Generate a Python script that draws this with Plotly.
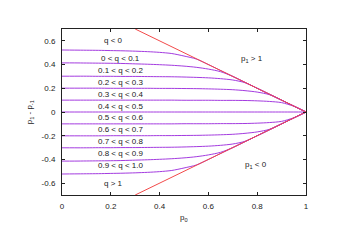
import plotly.graph_objects as go

# ---- data ----
p0 = [0.00, 0.05, 0.10, 0.15, 0.20, 0.25, 0.30, 0.35, 0.40, 0.45, 0.50,
      0.55, 0.60, 0.65, 0.70, 0.75, 0.80, 0.85, 0.90, 0.95, 1.00]

q_00 = [0.523, 0.522, 0.521, 0.520, 0.518, 0.516, 0.513, 0.509, 0.503, 0.493, 0.472,
        0.447, 0.400, 0.350, 0.300, 0.250, 0.200, 0.150, 0.100, 0.050, 0.0]
q_01 = [0.414, 0.414, 0.413, 0.412, 0.411, 0.409, 0.406, 0.403, 0.399, 0.394, 0.387,
        0.377, 0.362, 0.340, 0.300, 0.250, 0.200, 0.150, 0.100, 0.050, 0.0]
q_02 = [0.302, 0.302, 0.302, 0.301, 0.301, 0.300, 0.300, 0.299, 0.298, 0.297, 0.295,
        0.292, 0.288, 0.281, 0.270, 0.247, 0.200, 0.150, 0.100, 0.050, 0.0]
q_03 = [0.201, 0.201, 0.201, 0.201, 0.200, 0.200, 0.200, 0.200, 0.199, 0.199, 0.198,
        0.197, 0.195, 0.192, 0.188, 0.180, 0.168, 0.146, 0.100, 0.050, 0.0]
q_04 = [0.100, 0.100, 0.100, 0.100, 0.100, 0.100, 0.100, 0.100, 0.100, 0.100, 0.099,
        0.099, 0.099, 0.098, 0.098, 0.097, 0.094, 0.089, 0.079, 0.048, 0.0]
q_05 = [0.0, 0.0, 0.0, 0.0, 0.0, 0.0, 0.0, 0.0, 0.0, 0.0, 0.0,
        0.0, 0.0, 0.0, 0.0, 0.0, 0.0, 0.0, 0.0, 0.0, 0.0]
q_06 = [-0.100, -0.100, -0.100, -0.100, -0.100, -0.100, -0.100, -0.100, -0.100, -0.100, -0.099,
        -0.099, -0.099, -0.098, -0.098, -0.097, -0.094, -0.089, -0.079, -0.048, 0.0]
q_07 = [-0.201, -0.201, -0.201, -0.201, -0.200, -0.200, -0.200, -0.200, -0.199, -0.199, -0.198,
        -0.197, -0.195, -0.192, -0.188, -0.180, -0.168, -0.146, -0.100, -0.050, 0.0]
q_08 = [-0.302, -0.302, -0.302, -0.301, -0.301, -0.300, -0.300, -0.299, -0.298, -0.297, -0.295,
        -0.292, -0.288, -0.281, -0.270, -0.247, -0.200, -0.150, -0.100, -0.050, 0.0]
q_09 = [-0.414, -0.414, -0.413, -0.412, -0.411, -0.409, -0.406, -0.403, -0.399, -0.394, -0.387,
        -0.377, -0.362, -0.340, -0.300, -0.250, -0.200, -0.150, -0.100, -0.050, 0.0]
q_10 = [-0.523, -0.522, -0.521, -0.520, -0.518, -0.516, -0.513, -0.509, -0.503, -0.493, -0.472,
        -0.447, -0.400, -0.350, -0.300, -0.250, -0.200, -0.150, -0.100, -0.050, 0.0]

curves = [q_00, q_01, q_02, q_03, q_04, q_05, q_06, q_07, q_08, q_09, q_10]

# boundary lines p1 = 1 and p1 = 0
bound_x = [0.3, 1.0]
upper_bound_y = [0.7, 0.0]
lower_bound_y = [-0.7, 0.0]

region_labels = ["q < 0", "0 < q < 0.1", "0.1 < q < 0.2", "0.2 < q < 0.3",
                 "0.3 < q < 0.4", "0.4 < q < 0.5", "0.5 < q < 0.6", "0.6 < q < 0.7",
                 "0.7 < q < 0.8", "0.8 < q < 0.9", "0.9 < q < 1.0", "q > 1"]
region_label_y = [0.6, 0.45, 0.35, 0.25, 0.15, 0.05, -0.05, -0.15, -0.25, -0.35, -0.45, -0.6]
region_label_x = [0.21, 0.24, 0.24, 0.24, 0.24, 0.24, 0.24, 0.24, 0.24, 0.24, 0.24, 0.21]

x_tickvals = [0, 0.2, 0.4, 0.6, 0.8, 1.0]
x_ticktext = ["0", "0.2", "0.4", "0.6", "0.8", "1"]
y_tickvals = [-0.6, -0.4, -0.2, 0, 0.2, 0.4, 0.6]
y_ticktext = ["-0.6", "-0.4", "-0.2", "0", "0.2", "0.4", "0.6"]

FONT = "Liberation Sans, Arial, sans-serif"
PURPLE = "#a43ce0"
RED = "#f24a4a"
TEXT = "#222222"

fig = go.Figure()
for c in curves:
    fig.add_trace(go.Scatter(x=p0, y=c, mode="lines",
                             line=dict(color=PURPLE, width=1, shape="spline", smoothing=0.8),
                             hoverinfo="skip", showlegend=False))
fig.add_trace(go.Scatter(x=bound_x, y=upper_bound_y, mode="lines",
                         line=dict(color=RED, width=1), hoverinfo="skip", showlegend=False))
fig.add_trace(go.Scatter(x=bound_x, y=lower_bound_y, mode="lines",
                         line=dict(color=RED, width=1), hoverinfo="skip", showlegend=False))

annotations = []
for t, xx, yy in zip(region_labels, region_label_x, region_label_y):
    annotations.append(dict(x=xx, y=yy, xref="x", yref="y", text=t, showarrow=False,
                            xanchor="center", yanchor="middle",
                            font=dict(family=FONT, size=8, color=TEXT)))
annotations.append(dict(x=0.78, y=0.45, xref="x", yref="y", text="p<sub>1</sub> > 1",
                        showarrow=False, font=dict(family=FONT, size=8, color=TEXT)))
annotations.append(dict(x=0.795, y=-0.45, xref="x", yref="y", text="p<sub>1</sub> < 0",
                        showarrow=False, font=dict(family=FONT, size=8, color=TEXT)))
annotations.append(dict(x=0.5, y=-0.137, xref="paper", yref="paper", text="p<sub>0</sub>",
                        showarrow=False, xanchor="center", yanchor="middle",
                        font=dict(family=FONT, size=8, color=TEXT)))
annotations.append(dict(x=-0.13, y=0.5, xref="paper", yref="paper",
                        text="p<sub>1</sub> - p<sub>-1</sub>", textangle=-90,
                        showarrow=False, xanchor="center", yanchor="middle",
                        font=dict(family=FONT, size=8, color=TEXT)))

axis_common = dict(showgrid=False, zeroline=False, showline=True, linecolor=TEXT,
                   linewidth=1, mirror="allticks", ticks="inside", ticklen=3,
                   tickcolor=TEXT, tickwidth=1,
                   tickfont=dict(family=FONT, size=8, color=TEXT))

fig.update_layout(
    width=351, height=248,
    margin=dict(l=62, r=45, t=29, b=53),
    paper_bgcolor="white", plot_bgcolor="white",
    xaxis=dict(range=[0, 1], tickvals=x_tickvals, ticktext=x_ticktext,
               ticklabelstandoff=3, **axis_common),
    yaxis=dict(range=[-0.7, 0.7], tickvals=y_tickvals, ticktext=y_ticktext,
               ticklabelstandoff=4, **axis_common),
    annotations=annotations,
    showlegend=False,
    hovermode=False,
)

fig.write_html("out.html",
               config={"displayModeBar": False, "staticPlot": True},
               post_script="document.body.style.margin='0';document.body.style.padding='0';")
